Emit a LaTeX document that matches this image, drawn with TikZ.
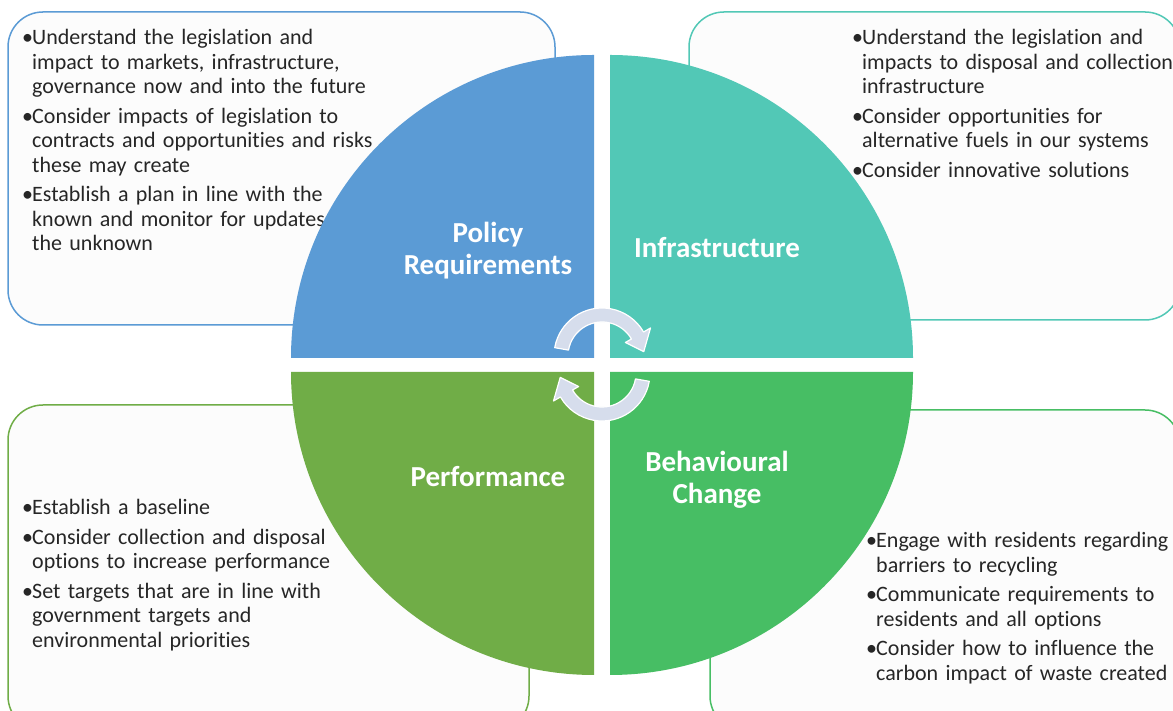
\documentclass[tikz,border=0pt]{standalone}
\usepackage{fontspec}
\setmainfont{Carlito}[Ligatures=NoCommon]
\usepackage{tikz}

\definecolor{policy}{RGB}{91,155,213}
\definecolor{infra}{RGB}{82,200,182}
\definecolor{perf}{RGB}{112,173,71}
\definecolor{behav}{RGB}{71,190,100}
\definecolor{cyc}{RGB}{214,221,236}
\definecolor{boxbg}{RGB}{252,252,252}

\newcommand{\bul}[1]{\hangindent=10pt\hangafter=1\noindent\makebox[10pt][l]{•}#1\par}

\begin{document}
\begin{tikzpicture}[x=1pt,y=1pt,
	box/.style={rounded corners=35pt,line width=1.5pt,fill=boxbg},
	info/.style={anchor=base west,inner sep=0pt,text width=420pt,text=black!85,font=\fontsize{22}{24.5}\selectfont},
	title/.style={anchor=base,inner sep=0pt,text width=260pt,align=center,text=white,font=\fontsize{29}{32}\selectfont\bfseries},
	cyclearrow/.style={fill=cyc,draw=white,line width=1.2pt,line join=round}]
	\useasboundingbox (0,0) rectangle (1173,711);
	\clip (0,0) rectangle (1173,711);
	\fill[white] (0,0) rectangle (1173,711);

	% text boxes behind the circle
	\draw[box,draw=policy] (8,386) rectangle (555,699);
	\draw[box,draw=infra] (689,391) rectangle (1180,699);
	\draw[box,draw=perf] (8,-20) rectangle (529,306);
	\draw[box,draw=behav] (710,-20) rectangle (1180,301);

	\node[info] (PRtxt) at (22,666) {\setlength{\parskip}{5pt}%
		\bul{Understand the legislation and\newline impact to markets, infrastructure,\newline governance now and into the future}
		\bul{Consider impacts of legislation to\newline contracts and opportunities and risks\newline these may create}
		\bul{Establish a plan in line with the\newline known and monitor for updates\newline the unknown}};
	\node[info] (INtxt) at (852,666) {\setlength{\parskip}{5pt}%
		\bul{Understand the legislation and\newline impacts to disposal and collection\newline infrastructure}
		\bul{Consider opportunities for\newline alternative fuels in our systems}
		\bul{Consider innovative solutions}};
	\node[info] (PFtxt) at (22,196) {\setlength{\parskip}{5pt}%
		\bul{Establish a baseline}
		\bul{Consider collection and disposal\newline options to increase performance}
		\bul{Set targets that are in line with\newline government targets and\newline environmental priorities}};
	\node[info] (BCtxt) at (866,163) {\setlength{\parskip}{5pt}%
		\bul{Engage with residents regarding\newline barriers to recycling}
		\bul{Communicate requirements to\newline residents and all options}
		\bul{Consider how to influence the\newline carbon impact of waste created}};

	% the four quarters
	\fill[policy] (594,353) -- (291,353) arc[start angle=180,end angle=90,radius=303] -- cycle;
	\fill[infra] (610,353) -- (610,656) arc[start angle=90,end angle=0,radius=303] -- cycle;
	\fill[perf] (594,339) -- (594,36) arc[start angle=270,end angle=180,radius=303] -- cycle;
	\fill[behav] (610,339) -- (913,339) arc[start angle=0,end angle=-90,radius=303] -- cycle;

	\node[title] (PR) at (488,468) {Policy\\Requirements};
	\node[title] (IN) at (717,453) {Infrastructure};
	\node[title] (PF) at (488,224) {Performance};
	\node[title] (BC) at (717,239) {Behavioural\\Change};

	% circular arrows in the middle
	\begin{scope}[shift={(602,355)}]
		\filldraw[cyclearrow] (170:48) arc[start angle=170,end angle=30,radius=48] -- (30:56) -- (6:42) -- (30:27) -- (30:34) arc[start angle=30,end angle=170,radius=34] -- cycle;
	\end{scope}
	\begin{scope}[shift={(602,338)},rotate=180]
		\filldraw[cyclearrow] (170:48) arc[start angle=170,end angle=30,radius=48] -- (30:56) -- (6:42) -- (30:27) -- (30:34) arc[start angle=30,end angle=170,radius=34] -- cycle;
	\end{scope}
\end{tikzpicture}
\end{document}
